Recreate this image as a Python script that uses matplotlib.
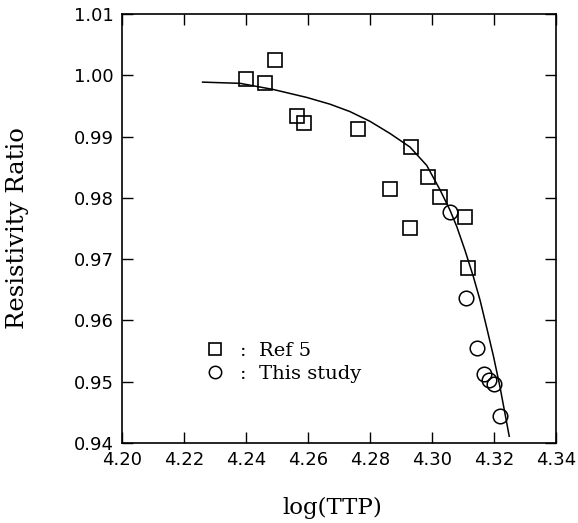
import matplotlib
matplotlib.use("Agg")
import matplotlib.pyplot as plt

# Ref 5 data (squares)
ref5_x = [4.2400, 4.2461, 4.2494, 4.2565, 4.2587, 4.2761, 4.2865, 4.2929,
          4.2932, 4.2987, 4.3026, 4.3106, 4.3116]
ref5_y = [0.9994, 0.9987, 1.0025, 0.9934, 0.9922, 0.9912, 0.9815, 0.9751,
          0.9883, 0.9834, 0.9801, 0.9769, 0.9686]

# this study (circles)
study_x = [4.3058, 4.3110, 4.3145, 4.3167, 4.3185, 4.3199, 4.3220]
study_y = [0.9777, 0.9637, 0.9555, 0.9513, 0.9502, 0.9496, 0.9444]

# fitted curve
fit_x = [4.2260, 4.2381, 4.2488, 4.2596, 4.2671, 4.2735, 4.2800, 4.2865,
         4.2929, 4.2983, 4.3026, 4.3058, 4.3080, 4.3106, 4.3133, 4.3155,
         4.3176, 4.3198, 4.3219, 4.3235, 4.3249]
fit_y = [0.9989, 0.9987, 0.9977, 0.9964, 0.9953, 0.9941, 0.9925, 0.9905,
         0.9883, 0.9853, 0.9813, 0.9780, 0.9753, 0.9715, 0.9672, 0.9633,
         0.9589, 0.9542, 0.9492, 0.9449, 0.9411]

xticks = [4.20, 4.22, 4.24, 4.26, 4.28, 4.30, 4.32, 4.34]
yticks = [0.94, 0.95, 0.96, 0.97, 0.98, 0.99, 1.00, 1.01]

fig = plt.figure(figsize=(5.78, 5.23), dpi=100)
ax = fig.add_axes([0.211, 0.153, 0.751, 0.820])

ax.plot(fit_x, fit_y, "k-", linewidth=1.1)
ax.plot(ref5_x, ref5_y, "s", markersize=9.5, markerfacecolor="none",
        markeredgecolor="k", markeredgewidth=1.2, label=":  Ref 5")
ax.plot(study_x, study_y, "o", markersize=10.5, markerfacecolor="none",
        markeredgecolor="k", markeredgewidth=1.1, label=":  This study")

ax.set_xlim(4.20, 4.34)
ax.set_ylim(0.94, 1.01)
ax.set_xticks(xticks)
ax.set_xticklabels(["%.2f" % t for t in xticks])
ax.set_yticks(yticks)
ax.set_yticklabels(["%.2f" % t for t in yticks])
ax.tick_params(direction="in", length=8, width=1, top=True, right=True,
               labelsize=13, pad=6)
for tl in ax.get_xticklabels() + ax.get_yticklabels():
    tl.set_family("DejaVu Sans")
for sp in ax.spines.values():
    sp.set_linewidth(1.2)

ax.set_xlabel("log(TTP)", family="DejaVu Serif", fontsize=16.5, labelpad=20)
ax.set_ylabel("Resistivity Ratio", family="DejaVu Serif", fontsize=17.5)
ax.yaxis.set_label_coords(-0.215, 0.5)
ax.xaxis.set_label_coords(0.485, -0.125)

leg = ax.legend(loc="upper left", bbox_to_anchor=(0.17, 0.258), frameon=False,
                prop={"family": "DejaVu Serif", "size": 14}, handletextpad=0.8,
                handlelength=1.0, labelspacing=0.25, markerscale=0.85,
                borderpad=0)

fig.savefig("out.png", dpi=100)
